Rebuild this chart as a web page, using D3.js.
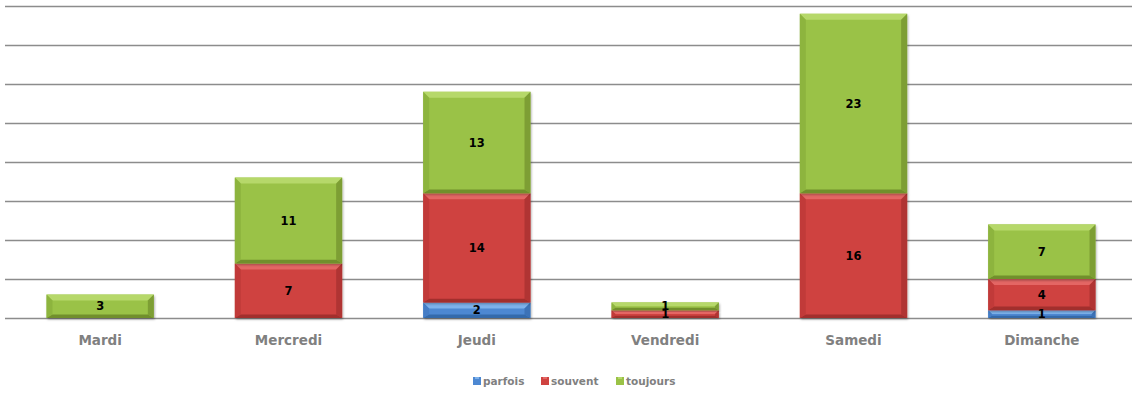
<!DOCTYPE html>
<html><head><meta charset="utf-8">
<script src="https://cdn.jsdelivr.net/npm/d3@7"></script>
<style>body{margin:0;background:#fff;}svg{display:block;}</style>
</head><body>
<script>
const categories = ["Mardi","Mercredi","Jeudi","Vendredi","Samedi","Dimanche"];
const seriesNames = ["parfois","souvent","toujours"];
const parfois  = [0,0,2,0,0,1];
const souvent  = [0,7,14,1,16,4];
const toujours = [3,11,13,1,23,7];
const yTicks = [0,5,10,15,20,25,30,35,40];

const W=1132,H=394;
const FONT="'DejaVu Sans', sans-serif";
const colors = {
  parfois:{main:"#4d88d2",light:"#7db2ec",dark:"#346aab",side:"#4279c0"},
  souvent:{main:"#cf4341",light:"#e46664",dark:"#a22f2d",side:"#bb3836"},
  toujours:{main:"#9ac246",light:"#b6d86a",dark:"#718f2c",side:"#88ae3a"}
};
const svg=d3.select("body").append("svg").attr("width",W).attr("height",H);
const x=d3.scaleBand().domain(categories).range([6,1136]).paddingInner(0.43).paddingOuter(0.215);
const y=d3.scaleLinear().domain([0,40]).range([318,6]);

svg.append("g").selectAll("line").data(yTicks).join("line")
  .attr("x1",5).attr("x2",W).attr("y1",d=>Math.round(y(d))+0.5).attr("y2",d=>Math.round(y(d))+0.5)
  .attr("stroke","#8c8c8c").attr("stroke-width",1.6);

const dataRows = categories.map((c,i)=>({cat:c,parfois:parfois[i],souvent:souvent[i],toujours:toujours[i]}));
const stack=d3.stack().keys(seriesNames)(dataRows);

const defs=svg.append("defs");
const f=defs.append("filter").attr("id","sh").attr("x","-10%").attr("y","-10%").attr("width","130%").attr("height","130%");
f.append("feDropShadow").attr("dx",1).attr("dy",1.5).attr("stdDeviation",1.2).attr("flood-color","#000").attr("flood-opacity",0.3);

const gBars=svg.append("g");
stack.forEach(layer=>{
  const key=layer.key, col=colors[key];
  layer.forEach((d,i)=>{
    const v=d[1]-d[0]; if(v<=0) return;
    const x0=x(categories[i]), w=x.bandwidth();
    const y0=y(d[1]), y1=y(d[0]), h=y1-y0;
    const g=gBars.append("g");
    g.append("rect").attr("x",x0).attr("y",y0).attr("width",w).attr("height",h).attr("fill",col.main).attr("filter","url(#sh)");
    const b=Math.min(6,h/2);
    const x1=x0+w;
    g.append("polygon").attr("points",[[x0,y0],[x1,y0],[x1-b,y0+b],[x0+b,y0+b]].join(" ")).attr("fill",col.light);
    g.append("polygon").attr("points",[[x0,y1],[x1,y1],[x1-b,y1-b*0.6],[x0+b,y1-b*0.6]].join(" ")).attr("fill",col.dark);
    g.append("polygon").attr("points",[[x0,y0],[x0+b,y0+b],[x0+b,y1-b*0.6],[x0,y1]].join(" ")).attr("fill",col.side).attr("opacity",0.7);
    g.append("polygon").attr("points",[[x1,y0],[x1-b,y0+b],[x1-b,y1-b*0.6],[x1,y1]].join(" ")).attr("fill",col.dark).attr("opacity",0.7);
  });
});
stack.forEach(layer=>{
  layer.forEach((d,i)=>{
    const v=d[1]-d[0]; if(v<=0) return;
    svg.append("text").attr("x",x(categories[i])+x.bandwidth()/2).attr("y",(y(d[0])+y(d[1]))/2+4)
      .attr("text-anchor","middle").attr("font-family",FONT).attr("font-weight","bold")
      .attr("font-size",11.5).attr("fill","#000").text(v);
  });
});
svg.append("g").selectAll("text").data(categories).join("text")
  .attr("x",d=>x(d)+x.bandwidth()/2).attr("y",345).attr("text-anchor","middle")
  .attr("font-family",FONT).attr("font-weight","bold").attr("font-size",13.5)
  .attr("fill","#808080").text(d=>d);

const legX=[473,541,616];
const lg=svg.append("g");
seriesNames.forEach((s,i)=>{
  lg.append("rect").attr("x",legX[i]).attr("y",377).attr("width",8).attr("height",8).attr("fill",colors[s].main);
  lg.append("rect").attr("x",legX[i]+2).attr("y",377).attr("width",4).attr("height",2).attr("fill",colors[s].light);
  lg.append("text").attr("x",legX[i]+10).attr("y",385).attr("font-family",FONT).attr("font-weight","bold")
    .attr("font-size",10.5).attr("fill","#808080").text(s);
});
</script>
</body></html>
